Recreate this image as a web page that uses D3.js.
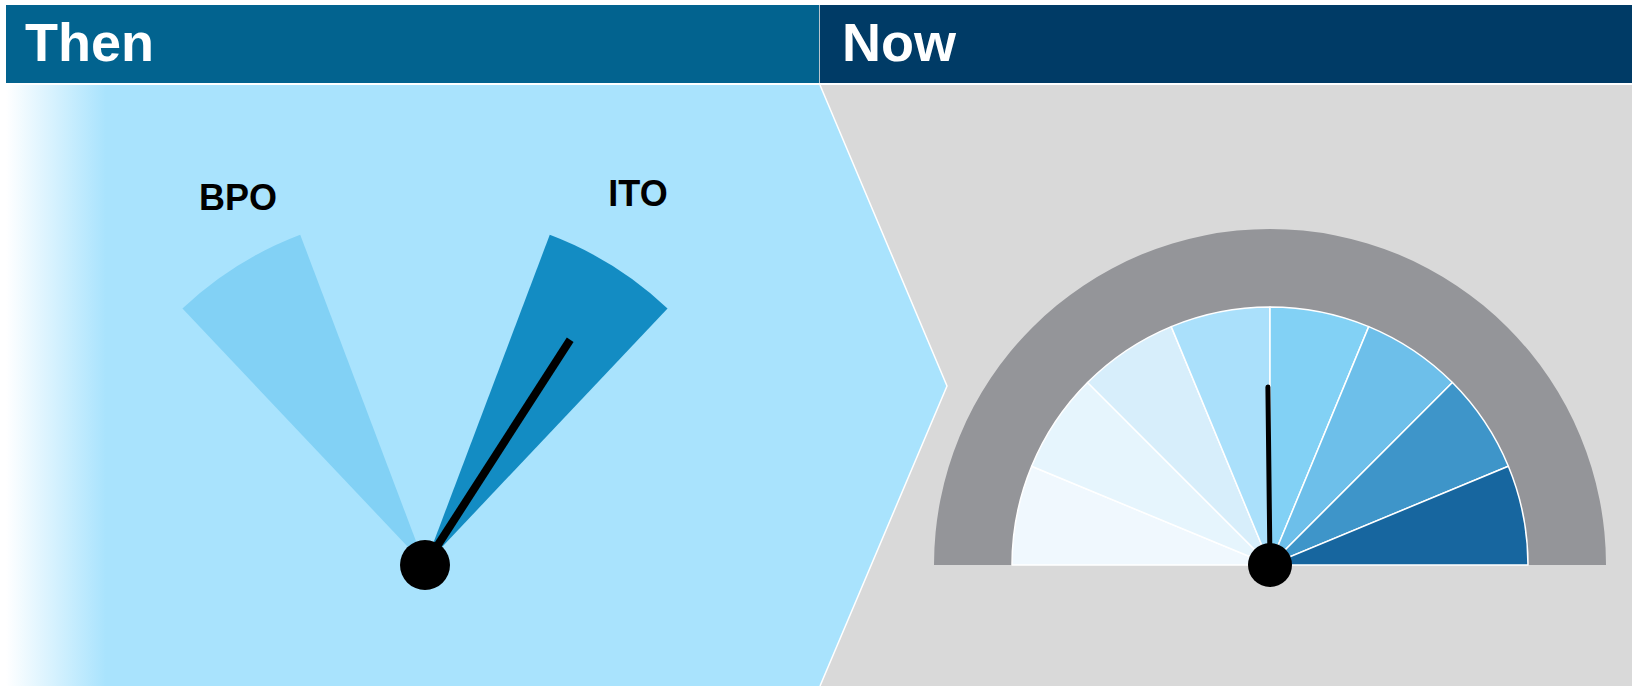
<!DOCTYPE html>
<html>
<head>
<meta charset="utf-8">
<script src="https://cdn.jsdelivr.net/npm/d3@7"></script>
<style>
  html, body { margin: 0; padding: 0; background: #ffffff; }
  svg { display: block; font-family: "Liberation Sans", Arial, sans-serif; }
</style>
</head>
<body>
<div id="chart"></div>
<script>
// ---- data ----
var panelTitles = ["Then", "Now"];

// "Then" gauge: two sectors, angles in degrees (0 = straight up)
var thenLabels = ["BPO", "ITO"];
var thenStart = [-43.4, 20.7];
var thenEnd = [-20.7, 43.4];
var thenNeedle = 32.8;

// "Now" gauge: eight equal bands on a 0..8 dial
var nowBands = [0, 1, 2, 3, 4, 5, 6, 7];
var nowNeedle = 3.97;

// ---- styles ----
var thenColors = ["#82d1f5", "#138cc3"];
var nowColors = ["#f0f8fe", "#e6f5fd", "#d7eefb", "#aae0fb", "#82d1f5", "#6dbfea", "#3e95c9", "#17669f"];

var width = 1632, height = 686;
var headTop = 5, headBottom = 83, bodyTop = 85;
var splitX = 820, leftX = 6, tipX = 947, tipY = 386;

var svg = d3.select('#chart')
    .append('svg')
    .attr('width', width)
    .attr('height', height);

var defs = svg.append('defs');
var grad = defs.append('linearGradient')
    .attr('id', 'fade')
    .attr('gradientUnits', 'userSpaceOnUse')
    .attr('x1', leftX).attr('x2', 106).attr('y1', 0).attr('y2', 0);
grad.append('stop').attr('offset', '0%').attr('stop-color', '#ffffff');
grad.append('stop').attr('offset', '100%').attr('stop-color', '#a9e3fd');

// headers
svg.append('rect').attr('x', leftX).attr('y', headTop)
    .attr('width', splitX - leftX).attr('height', headBottom - headTop)
    .attr('fill', '#02638f');
svg.append('rect').attr('x', splitX).attr('y', headTop)
    .attr('width', width - splitX).attr('height', headBottom - headTop)
    .attr('fill', '#003b66');
svg.append('line').attr('x1', splitX - 0.5).attr('x2', splitX - 0.5)
    .attr('y1', headTop).attr('y2', headBottom)
    .attr('stroke', '#b8c4cc').attr('stroke-width', 1);

svg.selectAll('.title')
    .data(panelTitles)
    .enter().append('text')
    .attr('class', 'title')
    .attr('x', function(d, i) { return i === 0 ? 25 : 842; })
    .attr('y', 61)
    .attr('fill', '#ffffff')
    .attr('font-size', 54)
    .attr('font-weight', 'bold')
    .text(function(d) { return d; });

// body backgrounds
svg.append('rect').attr('x', splitX).attr('y', bodyTop)
    .attr('width', width - splitX).attr('height', height - bodyTop)
    .attr('fill', '#d9d9d9');
svg.append('path')
    .attr('d', 'M' + leftX + ',' + bodyTop + 'L' + splitX + ',' + bodyTop + 'L' + tipX + ',' + tipY +
        'L' + splitX + ',' + height + 'L' + leftX + ',' + height + 'Z')
    .attr('fill', 'url(#fade)');
svg.append('path')
    .attr('d', 'M' + splitX + ',' + bodyTop + 'L' + tipX + ',' + tipY + 'L' + splitX + ',' + height)
    .attr('fill', 'none')
    .attr('stroke', '#ffffff')
    .attr('stroke-width', 1.5);

var rad = Math.PI / 180;

// ---- Then gauge ----
var thenCx = 425, thenCy = 565, thenR = 353;
var thenG = svg.append('g').attr('transform', 'translate(' + thenCx + ',' + thenCy + ')');
var thenArc = d3.arc().innerRadius(0).outerRadius(thenR);

thenG.selectAll('.sector')
    .data(thenLabels)
    .enter().append('path')
    .attr('class', 'sector')
    .attr('d', function(d, i) {
        return thenArc({ startAngle: thenStart[i] * rad, endAngle: thenEnd[i] * rad });
    })
    .attr('fill', function(d, i) { return thenColors[i]; });

// labels sit above each sector
var labelPos = [[-187, -355], [213, -359]];
thenG.selectAll('.lbl')
    .data(thenLabels)
    .enter().append('text')
    .attr('class', 'lbl')
    .attr('x', function(d, i) { return labelPos[i][0]; })
    .attr('y', function(d, i) { return labelPos[i][1]; })
    .attr('text-anchor', 'middle')
    .attr('font-size', 36)
    .attr('font-weight', 'bold')
    .attr('fill', '#000000')
    .text(function(d) { return d; });

var thenLen = 268;
thenG.append('line')
    .attr('x1', 0).attr('y1', 0)
    .attr('x2', Math.sin(thenNeedle * rad) * thenLen)
    .attr('y2', -Math.cos(thenNeedle * rad) * thenLen)
    .attr('stroke', '#000000')
    .attr('stroke-width', 8);
thenG.append('circle').attr('r', 25).attr('fill', '#000000');

// ---- Now gauge ----
var nowCx = 1270, nowCy = 565;
var nowG = svg.append('g').attr('transform', 'translate(' + nowCx + ',' + nowCy + ')');
var dial = d3.scaleLinear().domain([0, nowBands.length]).range([-90 * rad, 90 * rad]);

nowG.append('path')
    .attr('d', d3.arc().innerRadius(256).outerRadius(336)
        .startAngle(dial(0)).endAngle(dial(nowBands.length))())
    .attr('fill', '#949599');

var bandArc = d3.arc().innerRadius(0).outerRadius(258);
nowG.selectAll('.band')
    .data(nowBands)
    .enter().append('path')
    .attr('class', 'band')
    .attr('d', function(d) { return bandArc({ startAngle: dial(d), endAngle: dial(d + 1) }); })
    .attr('fill', function(d, i) { return nowColors[i]; })
    .attr('stroke', '#ffffff')
    .attr('stroke-width', 1.5)
    .attr('stroke-linejoin', 'round');

var nowLen = 178;
nowG.append('line')
    .attr('x1', 0).attr('y1', 0)
    .attr('x2', Math.sin(dial(nowNeedle)) * nowLen)
    .attr('y2', -Math.cos(dial(nowNeedle)) * nowLen)
    .attr('stroke', '#000000')
    .attr('stroke-width', 5)
    .attr('stroke-linecap', 'round');
nowG.append('circle').attr('r', 22).attr('fill', '#000000');
</script>
</body>
</html>
